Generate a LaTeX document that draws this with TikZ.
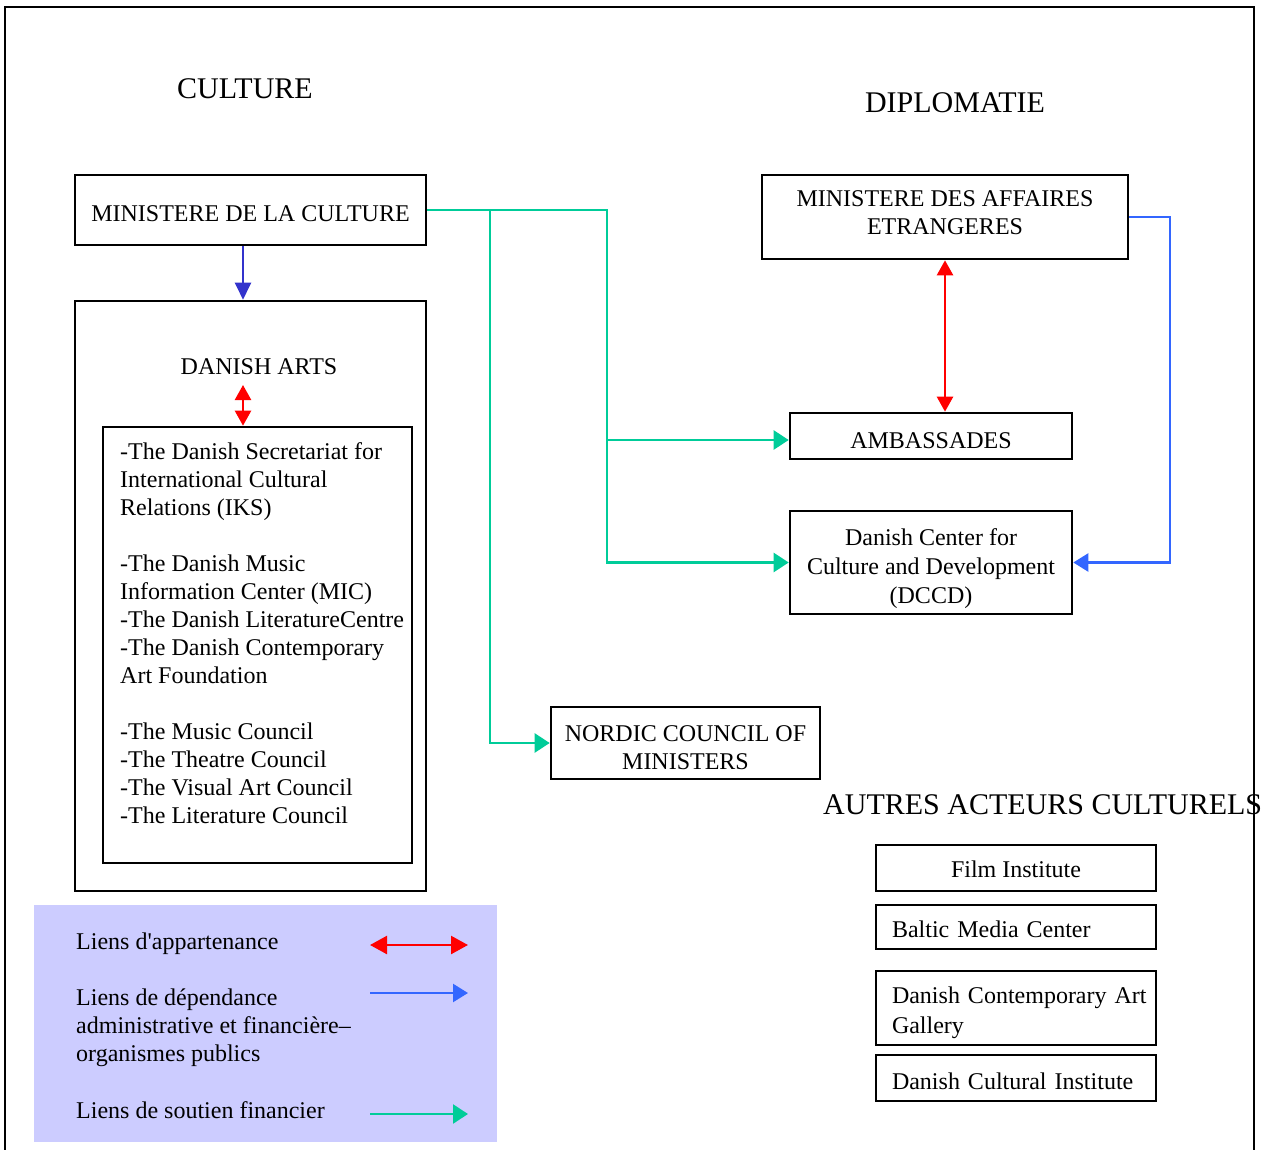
\documentclass[tikz,border=0pt]{standalone}
\usepackage{fontspec}
\setmainfont{Liberation Serif}
\usetikzlibrary{arrows.meta}
\definecolor{linkgreen}{RGB}{0,204,153}
\definecolor{linkblue}{RGB}{51,102,255}
\definecolor{darkblue}{RGB}{51,51,204}
\definecolor{linkred}{RGB}{255,0,0}
\definecolor{legendbg}{RGB}{204,204,255}
\newcommand\fsmain{\fontsize{24}{28}\selectfont}
\newcommand\fswide{\fontsize{24}{29}\selectfont}
\newcommand\fsgal{\fontsize{24}{30}\selectfont}
\newcommand\fshead{\fontsize{30}{34}\selectfont}
\tikzset{
  box/.style={draw, line width=2.6pt, inner sep=0pt, align=center, font=\fsmain},
  lbox/.style={box, align=left, inner xsep=16pt, text width=248pt},
  head/.style={font=\fshead, inner sep=0pt},
  txt/.style={font=\fsmain, inner sep=0pt, align=left},
  th/.style={text height=#1, text depth=0pt},
  gline/.style={draw=linkgreen, line width=2.4pt, -{Triangle[length=15pt,width=19pt]}},
  bline/.style={draw=linkblue, line width=2.4pt, -{Triangle[length=15pt,width=18pt]}},
  dbline/.style={draw=darkblue, line width=2.4pt, -{Triangle[length=17pt,width=16pt]}},
  rline/.style={draw=linkred, line width=2.4pt, {Triangle[length=15pt,width=16pt]}-{Triangle[length=15pt,width=16pt]}},
}
\begin{document}
\begin{tikzpicture}[x=1pt,y=-1pt]
\useasboundingbox (0,0) rectangle (1261,1150);
% outer frame
\draw[line width=2pt] (5,1150) -- (5,7) -- (1254,7) -- (1254,1150);

% headers
\node[head] (hcult) at (245,89) {CULTURE};
\node[head] (hdipl) at (955,103) {DIPLOMATIE};
\node[head, anchor=west] (hautres) at (823,805) {AUTRES ACTEURS CULTURELS};

% culture side
\node[box, th=24pt, minimum width=351pt, minimum height=70pt] (minc) at (250.5,210) {MINISTERE DE LA CULTURE};
\node[box, minimum width=351pt, minimum height=590pt] (arts) at (250.5,596) {};
\node[txt] (artstitle) at (259,367) {DANISH ARTS};
\node[box, minimum width=309pt, minimum height=436pt] (inner) at (257.5,645) {};
\node[txt, anchor=north west] (list) at (120,442) {-The Danish Secretariat for\\
International Cultural\\
Relations (IKS)\\[28pt]
-The Danish Music\\
Information Center (MIC)\\
-The Danish LiteratureCentre\\
-The Danish Contemporary\\
Art Foundation\\[28pt]
-The Music Council\\
-The Theatre Council\\
-The Visual Art Council\\
-The Literature Council};

% diplomatie side
\node[box, th=36pt, minimum width=366pt, minimum height=84pt] (mae) at (945,217) {MINISTERE DES AFFAIRES\\ETRANGERES};
\node[box, th=24pt, minimum width=282pt, minimum height=46pt] (amb) at (931,436) {AMBASSADES};
\node[box, th=81pt, font=\fswide, minimum width=282pt, minimum height=103pt] (dccd) at (931,562.5) {Danish Center for\\Culture and Development\\(DCCD)};
\node[box, th=52pt, minimum width=269pt, minimum height=72pt] (nord) at (685.5,743) {NORDIC COUNCIL OF\\MINISTERS};

% autres acteurs
\node[box, th=18pt, minimum width=280pt, minimum height=46pt] (film) at (1016,868) {Film Institute};
\node[lbox, th=20pt, minimum height=44pt] (baltic) at (1016,927) {Baltic Media Center};
\node[lbox, text height=17pt, text depth=27pt, font=\fsgal, minimum height=74pt] (gallery) at (1016,1008) {\mbox{Danish Contemporary Art}\\Gallery};
\node[lbox, th=22pt, minimum height=46pt] (dci) at (1016,1078) {Danish Cultural Institute};

% connectors
\coordinate (ax) at (243,0);
\coordinate (rt) at (243,385);
\coordinate (gA) at (607,0);
\coordinate (gB) at (490,0);
\coordinate (bX) at (1170,0);
\coordinate (ambin) at ([yshift=-4pt]amb.west);
\draw[dbline] (ax |- minc.south) -- (ax |- arts.north);
\draw[rline] (rt) -- (ax |- inner.north);
\draw[rline] (mae.south) -- (mae.south |- amb.north);
\draw[gline] (minc.east) -| (gA |- dccd.west) -- (dccd.west);
\draw[gline] (gA |- ambin) -- (ambin);
\draw[gline] (gB |- minc.east) -- (gB |- nord.west) -- (nord.west);
\draw[bline] (mae.east) -| (bX |- dccd.east) -- (dccd.east);

% legend
\node[fill=legendbg, minimum width=463pt, minimum height=237pt, inner sep=0pt] (legend) at (265.5,1023.5) {};
\node[txt, anchor=west] (l1) at (76,944) {Liens d\textquotesingle appartenance};
\node[txt, anchor=west] (l2) at (76,1028) {Liens de dépendance\\administrative et financière–\\organismes publics};
\node[txt, anchor=west] (l3) at (76,1110) {Liens de soutien financier};
\coordinate (r1a) at (370,945);
\coordinate (r1b) at (468,945);
\coordinate (r2a) at (370,993);
\coordinate (r2b) at (468,993);
\coordinate (r3a) at (370,1114);
\coordinate (r3b) at (468,1114);
\draw[draw=linkred, line width=2.4pt, {Triangle[length=17pt,width=18pt]}-{Triangle[length=17pt,width=18pt]}] (r1a) -- (r1b);
\draw[bline] (r2a) -- (r2b);
\draw[gline] (r3a) -- (r3b);
\end{tikzpicture}
\end{document}
